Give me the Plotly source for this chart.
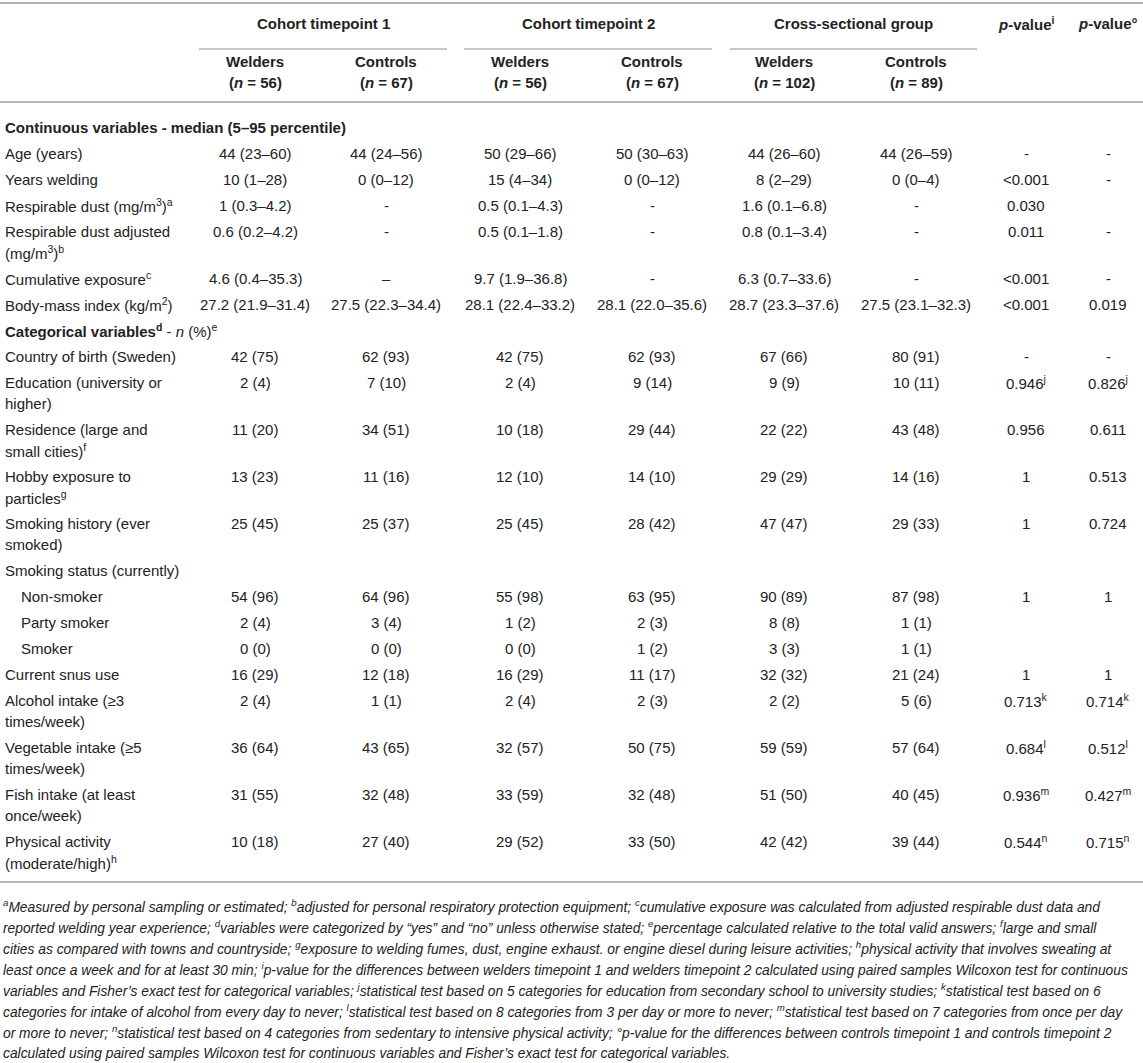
import plotly.graph_objects as go

# table contents
groups = ["Cohort timepoint 1", "Cohort timepoint 2", "Cross-sectional group"]
sub_heads = ["Welders", "Controls", "Welders", "Controls", "Welders", "Controls"]
n_sizes = [56, 67, 56, 67, 102, 89]
p_heads = ["<i>p</i>-value<sup>i</sup>", "<i>p</i>-value°"]

labels = [
    "<b>Continuous variables - median (5–95 percentile)</b>",
    "Age (years)",
    "Years welding",
    "Respirable dust (mg/m<sup>3</sup>)<sup>a</sup>",
    "Respirable dust adjusted<br>(mg/m<sup>3</sup>)<sup>b</sup>",
    "Cumulative exposure<sup>c</sup>",
    "Body-mass index (kg/m<sup>2</sup>)",
    "<b>Categorical variables<sup>d</sup></b> - <i>n</i> (%)<sup>e</sup>",
    "Country of birth (Sweden)",
    "Education (university or<br>higher)",
    "Residence (large and<br>small cities)<sup>f</sup>",
    "Hobby exposure to<br>particles<sup>g</sup>",
    "Smoking history (ever<br>smoked)",
    "Smoking status (currently)",
    "Non-smoker",
    "Party smoker",
    "Smoker",
    "Current snus use",
    "Alcohol intake (≥3<br>times/week)",
    "Vegetable intake (≥5<br>times/week)",
    "Fish intake (at least<br>once/week)",
    "Physical activity<br>(moderate/high)<sup>h</sup>",
]
row_kind = ["section", "item", "item", "item", "item", "item", "item", "section",
            "item", "item", "item", "item", "item", "item", "sub", "sub", "sub",
            "item", "item", "item", "item", "item"]

welders_t1 = ["", "44 (23–60)", "10 (1–28)", "1 (0.3–4.2)", "0.6 (0.2–4.2)", "4.6 (0.4–35.3)",
              "27.2 (21.9–31.4)", "", "42 (75)", "2 (4)", "11 (20)", "13 (23)", "25 (45)", "",
              "54 (96)", "2 (4)", "0 (0)", "16 (29)", "2 (4)", "36 (64)", "31 (55)", "10 (18)"]
controls_t1 = ["", "44 (24–56)", "0 (0–12)", "-", "-", "–",
               "27.5 (22.3–34.4)", "", "62 (93)", "7 (10)", "34 (51)", "11 (16)", "25 (37)", "",
               "64 (96)", "3 (4)", "0 (0)", "12 (18)", "1 (1)", "43 (65)", "32 (48)", "27 (40)"]
welders_t2 = ["", "50 (29–66)", "15 (4–34)", "0.5 (0.1–4.3)", "0.5 (0.1–1.8)", "9.7 (1.9–36.8)",
              "28.1 (22.4–33.2)", "", "42 (75)", "2 (4)", "10 (18)", "12 (10)", "25 (45)", "",
              "55 (98)", "1 (2)", "0 (0)", "16 (29)", "2 (4)", "32 (57)", "33 (59)", "29 (52)"]
controls_t2 = ["", "50 (30–63)", "0 (0–12)", "-", "-", "-",
               "28.1 (22.0–35.6)", "", "62 (93)", "9 (14)", "29 (44)", "14 (10)", "28 (42)", "",
               "63 (95)", "2 (3)", "1 (2)", "11 (17)", "2 (3)", "50 (75)", "32 (48)", "33 (50)"]
welders_cs = ["", "44 (26–60)", "8 (2–29)", "1.6 (0.1–6.8)", "0.8 (0.1–3.4)", "6.3 (0.7–33.6)",
              "28.7 (23.3–37.6)", "", "67 (66)", "9 (9)", "22 (22)", "29 (29)", "47 (47)", "",
              "90 (89)", "8 (8)", "3 (3)", "32 (32)", "2 (2)", "59 (59)", "51 (50)", "42 (42)"]
controls_cs = ["", "44 (26–59)", "0 (0–4)", "-", "-", "-",
               "27.5 (23.1–32.3)", "", "80 (91)", "10 (11)", "43 (48)", "14 (16)", "29 (33)", "",
               "87 (98)", "1 (1)", "1 (1)", "21 (24)", "5 (6)", "57 (64)", "40 (45)", "39 (44)"]
p_welders = ["", "-", "&lt;0.001", "0.030", "0.011", "&lt;0.001", "&lt;0.001", "", "-",
             "0.946<sup>j</sup>", "0.956", "1", "1", "", "1", "", "", "1",
             "0.713<sup>k</sup>", "0.684<sup>l</sup>", "0.936<sup>m</sup>", "0.544<sup>n</sup>"]
p_controls = ["", "-", "-", "", "-", "-", "0.019", "", "-",
              "0.826<sup>j</sup>", "0.611", "0.513", "0.724", "", "1", "", "", "1",
              "0.714<sup>k</sup>", "0.512<sup>l</sup>", "0.427<sup>m</sup>", "0.715<sup>n</sup>"]

footnotes = [
    "<sup>a</sup>Measured by personal sampling or estimated; <sup>b</sup>adjusted for personal respiratory protection equipment; <sup>c</sup>cumulative exposure was calculated from adjusted respirable dust data and",
    "reported welding year experience; <sup>d</sup>variables were categorized by “yes” and “no” unless otherwise stated; <sup>e</sup>percentage calculated relative to the total valid answers; <sup>f</sup>large and small",
    "cities as compared with towns and countryside; <sup>g</sup>exposure to welding fumes, dust, engine exhaust. or engine diesel during leisure activities; <sup>h</sup>physical activity that involves sweating at",
    "least once a week and for at least 30 min; <sup>i</sup>p-value for the differences between welders timepoint 1 and welders timepoint 2 calculated using paired samples Wilcoxon test for continuous",
    "variables and Fisher’s exact test for categorical variables; <sup>j</sup>statistical test based on 5 categories for education from secondary school to university studies; <sup>k</sup>statistical test based on 6",
    "categories for intake of alcohol from every day to never; <sup>l</sup>statistical test based on 8 categories from 3 per day or more to never; <sup>m</sup>statistical test based on 7 categories from once per day",
    "or more to never; <sup>n</sup>statistical test based on 4 categories from sedentary to intensive physical activity; °p-value for the differences between controls timepoint 1 and controls timepoint 2",
    "calculated using paired samples Wilcoxon test for continuous variables and Fisher’s exact test for categorical variables.",
]

columns = [welders_t1, controls_t1, welders_t2, controls_t2, welders_cs, controls_cs, p_welders, p_controls]

# layout (pixels)
W, H = 1143, 1063
col_x = [255, 386, 520, 652, 784, 916, 1026, 1108]
group_span = [(199, 447), (464, 712), (730, 977)]
y_body = 127
row_step = 26
line_step = 21
rule_col = "#b4b4b4"
txt_col = "#222222"
FONT = "Liberation Sans, Arial, sans-serif"

fig = go.Figure()
ann = []
shapes = []


def text(x, y, s, anchor="center", size=15, italic=False):
    ann.append(dict(x=x, y=y, xref="x", yref="y", text=s, showarrow=False,
                    xanchor=anchor, yanchor="middle",
                    font=dict(family=FONT, size=size, color=txt_col,
                              style="italic" if italic else "normal")))


def rule(x0, x1, y, w=2):
    shapes.append(dict(type="line", xref="x", yref="y", x0=x0, x1=x1, y0=y, y1=y,
                       line=dict(color=rule_col, width=w)))


# header
rule(0, W, 3)
for g, (a, b) in zip(groups, group_span):
    text((a + b) / 2, 23, "<b>%s</b>" % g)
    rule(a, b, 49, 1.5)
for x, s in zip(col_x[6:], p_heads):
    text(x, 23, "<b>%s</b>" % s)
for x, s, n in zip(col_x, sub_heads, n_sizes):
    text(x, 61, "<b>%s</b>" % s)
    text(x, 82, "<b>(<i>n</i> = %d)</b>" % n)
rule(0, W, 102)

# body
y = y_body
for i, lab in enumerate(labels):
    lines = lab.split("<br>")
    lx = 19 if row_kind[i] == "sub" else 3
    for k, ln in enumerate(lines):
        text(lx, y + k * line_step, ln, anchor="left")
    for x, col in zip(col_x, columns):
        if col[i]:
            text(x, y, col[i])
    y += row_step + line_step * (len(lines) - 1)

rule(0, W, y - 6)

# footnotes
fy = y + 18
for k, ln in enumerate(footnotes):
    text(1, fy + k * line_step, ln, anchor="left", size=13.8, italic=True)

fig.update_layout(
    width=W, height=H,
    margin=dict(l=0, r=0, t=0, b=0),
    paper_bgcolor="white", plot_bgcolor="white",
    xaxis=dict(range=[0, W], visible=False, fixedrange=True),
    yaxis=dict(range=[H, 0], visible=False, fixedrange=True),
    annotations=ann, shapes=shapes, showlegend=False,
)
fig.write_html("out.html", config={"displayModeBar": False},
               post_script="document.body.style.margin='0';document.body.style.overflow='hidden';")
